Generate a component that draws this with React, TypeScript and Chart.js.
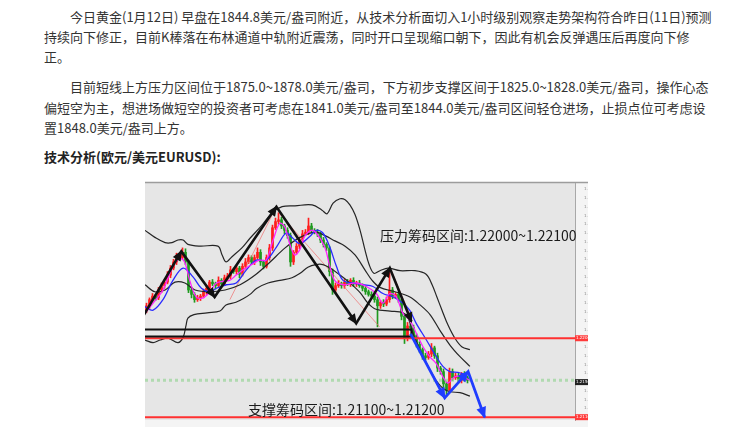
import React, { useEffect, useRef } from "react";
import { Chart, registerables } from "chart.js";
Chart.register(...registerables);

// ---------- page text ----------
const para1Lines = [
  "今日黄金(1月12日) 早盘在1844.8美元/盎司附近，从技术分析面切入1小时级别观察走势架构符合昨日(11日)预测",
  "持续向下修正，目前K棒落在布林通道中轨附近震荡，同时开口呈现缩口朝下，因此有机会反弹遇压后再度向下修",
  "正。",
];
const para2Lines = [
  "目前短线上方压力区间位于1875.0~1878.0美元/盎司，下方初步支撑区间于1825.0~1828.0美元/盎司，操作心态",
  "偏短空为主，想进场做短空的投资者可考虑在1841.0美元/盎司至1844.0美元/盎司区间轻仓进场，止损点位可考虑设",
  "置1848.0美元/盎司上方。",
];
const heading = "技术分析(欧元/美元EURUSD):";

// ---------- chart data (x = bar index, y = EURUSD price) ----------
const firstOpen = 1.2232;
const closes = [
  1.2237, 1.2244, 1.2248, 1.2246, 1.2255, 1.226, 1.2264, 1.2272, 1.228, 1.2287,
  1.2294, 1.2292, 1.2298, 1.2287, 1.2255, 1.225, 1.2244, 1.2246, 1.2248, 1.2253,
  1.2257, 1.2264, 1.2262, 1.226, 1.2266, 1.2262, 1.2269, 1.2271, 1.2278, 1.2276,
  1.228, 1.2273, 1.2282, 1.2287, 1.2292, 1.2287, 1.2292, 1.2298, 1.2287, 1.2282,
  1.2292, 1.2303, 1.2326, 1.2333, 1.2335, 1.2328, 1.2323, 1.2317, 1.2287, 1.2298,
  1.2305, 1.2312, 1.2319, 1.2321, 1.2328, 1.2323, 1.2321, 1.2319, 1.2312, 1.2307,
  1.2303, 1.2276, 1.2255, 1.226, 1.2262, 1.226, 1.2264, 1.2262, 1.2266, 1.2262,
  1.2263, 1.226, 1.2257, 1.2253, 1.225, 1.2248, 1.2244, 1.2237, 1.2241, 1.2239,
  1.2244, 1.2255, 1.2248, 1.225, 1.2244, 1.2225, 1.22, 1.2214, 1.2212, 1.2203,
  1.2193, 1.2187, 1.218, 1.2178, 1.2182, 1.2189, 1.218, 1.2166, 1.2162, 1.2148,
  1.2141, 1.2162, 1.2155, 1.2157, 1.2152, 1.2159, 1.2155, 1.2152,
];
// wick lengths in pips (0.0001)
const upWicks = [
  3, 2, 3, 2, 3, 3, 2, 4, 3, 3, 3, 2, 5, 4, 2, 3, 2, 3, 2, 3,
  3, 2, 3, 2, 4, 2, 3, 3, 4, 2, 3, 2, 3, 4, 3, 2, 3, 5, 3, 2,
  3, 4, 3, 4, 8, 3, 2, 3, 3, 2, 3, 3, 4, 3, 9, 3, 2, 3, 2, 3,
  2, 2, 3, 3, 4, 2, 3, 3, 2, 3, 2, 3, 2, 3, 2, 3, 2, 3, 2, 3,
  3, 23, 3, 2, 3, 2, 3, 4, 2, 3, 2, 3, 2, 3, 3, 5, 2, 3, 2, 3,
  2, 4, 3, 3, 3, 2, 3, 2,
];
const downWicks = [
  3, 3, 2, 3, 2, 3, 3, 2, 3, 2, 3, 3, 2, 3, 3, 4, 3, 2, 3, 2,
  3, 3, 2, 4, 2, 3, 2, 3, 3, 2, 3, 4, 2, 3, 2, 3, 3, 2, 4, 3,
  2, 3, 3, 2, 3, 3, 4, 3, 5, 3, 2, 3, 3, 2, 3, 3, 2, 3, 3, 3,
  3, 5, 5, 3, 2, 3, 3, 2, 3, 3, 3, 2, 3, 3, 2, 3, 3, 24, 3, 3,
  2, 3, 3, 2, 3, 4, 6, 3, 3, 4, 3, 3, 4, 3, 2, 3, 3, 4, 3, 4,
  6, 3, 3, 2, 3, 3, 2, 3,
];

const magentaMA = [
  [-0.1, 1.2228], [2.7, 1.224], [6, 1.2255], [9.3, 1.2282], [11.6, 1.2291], [13.2, 1.2287],
  [14.9, 1.2266], [17.1, 1.2247], [19.3, 1.2246], [21.6, 1.2253], [23.8, 1.2263], [26, 1.2265],
  [28.2, 1.2266], [30.4, 1.2272], [32.7, 1.2278], [36, 1.2285], [38.2, 1.2289], [40.4, 1.2289],
  [42.7, 1.2312], [44.9, 1.2331], [46.6, 1.2327], [48.2, 1.2308], [49.9, 1.2295], [51.6, 1.2301],
  [53.2, 1.2316], [55.4, 1.2323], [57.1, 1.232], [59.9, 1.2304], [61.6, 1.2282], [63.2, 1.2266],
  [66, 1.2261], [70.4, 1.2263], [73.8, 1.2259], [77.1, 1.2251], [79.3, 1.224], [81.6, 1.2251],
  [83.8, 1.2247], [86, 1.2228], [88.2, 1.2221], [90.4, 1.2206], [92.7, 1.219], [94.9, 1.2179],
  [97.1, 1.2171], [99.3, 1.2156], [101, 1.2149], [103.2, 1.2156], [106, 1.2156], [108.2, 1.2152],
];
const blueMA = [
  [-0.1, 1.2236], [2.7, 1.2232], [6, 1.2244], [9.3, 1.2266], [12.7, 1.228], [16, 1.227],
  [18.8, 1.2257], [21.6, 1.2253], [23.8, 1.2257], [27.1, 1.2261], [30.4, 1.2263], [33.8, 1.2278],
  [37.1, 1.2289], [40.4, 1.2289], [43.8, 1.2304], [47.1, 1.232], [49.3, 1.2314], [51.6, 1.2308],
  [54.9, 1.2316], [57.1, 1.2323], [59.3, 1.232], [61.6, 1.2304], [63.8, 1.2282], [66, 1.2266],
  [69.3, 1.2263], [72.7, 1.2261], [76, 1.2259], [79.3, 1.2251], [82.7, 1.2247], [86, 1.224],
  [88.2, 1.2232], [90.4, 1.2217], [93.8, 1.2198], [97.1, 1.2179], [99.3, 1.2168], [101.6, 1.2162],
  [104.3, 1.2161], [107.1, 1.2158],
];
const upperBand = [
  [0, 1.2323], [3.3, 1.2315], [6.7, 1.2309], [9, 1.2309], [11, 1.2312], [12.7, 1.2312],
  [14.3, 1.2307], [18.3, 1.2305], [24.3, 1.2305], [25.7, 1.2295], [27, 1.2287], [29, 1.2293],
  [32.3, 1.2303], [35, 1.2314], [39, 1.2329], [42.3, 1.2343], [45.7, 1.235], [50, 1.2351],
  [55.7, 1.2352], [59, 1.2346], [60.7, 1.2342], [62.7, 1.2354], [65, 1.2359], [66.7, 1.2358],
  [68.3, 1.2352], [70, 1.2341], [71.7, 1.2323], [73.3, 1.2301], [74.7, 1.2284], [76.3, 1.2274],
  [78.3, 1.2277], [81, 1.228], [85, 1.2277], [90, 1.2277], [93.7, 1.2273], [95.7, 1.2261],
  [97.3, 1.2247], [99, 1.2232], [101, 1.2215], [103.3, 1.22], [105.7, 1.219], [108.3, 1.2187],
];
const middleBand = [
  [0, 1.2261], [3.3, 1.2253], [6.7, 1.2255], [10, 1.2264], [13.3, 1.2263], [16.7, 1.2255],
  [21.7, 1.2253], [26.7, 1.2255], [31.7, 1.2261], [36.7, 1.2272], [41.7, 1.2287], [46.7, 1.2303],
  [51.7, 1.2315], [56.7, 1.2321], [60, 1.2317], [63.3, 1.2311], [66.7, 1.2305], [70, 1.2295],
  [73.3, 1.2278], [75.7, 1.2266], [78.3, 1.2258], [83.3, 1.2253], [88.3, 1.2247], [91.7, 1.2238],
  [95, 1.2227], [98.3, 1.2209], [101.7, 1.2192], [105, 1.2179], [108.3, 1.2168],
];
const lowerBand = [
  [0, 1.2198], [2.7, 1.2195], [5, 1.2198], [7.7, 1.22], [11, 1.2195], [12.7, 1.2201],
  [13.7, 1.2215], [14.3, 1.2223], [16.3, 1.2227], [20.7, 1.2229], [25, 1.2231], [27, 1.2238],
  [30.3, 1.2241], [32.7, 1.2245], [35, 1.225], [37.3, 1.2257], [41, 1.2263], [45, 1.2266],
  [49, 1.2269], [51.7, 1.2274], [54.3, 1.2281], [57, 1.2284], [59.3, 1.2284], [61.7, 1.228],
  [65, 1.2272], [68.3, 1.2263], [71.7, 1.2252], [74.3, 1.224], [77, 1.2233], [81.7, 1.2231],
  [86, 1.2229], [87.7, 1.2223], [89.3, 1.2206], [91, 1.2192], [92.7, 1.2179], [95, 1.2164],
  [97, 1.2152], [99.3, 1.2143], [101.7, 1.2139], [105, 1.2138], [108.3, 1.2134],
];
const blackArrowPath = [
  [-1, 1.2223], [12.1, 1.2299], [23.2, 1.2247], [43.8, 1.235], [70.4, 1.2217], [81.6, 1.228], [88.8, 1.2219],
];
const blueArrowPath = [
  [88.5, 1.2205], [99.9, 1.2132], [107.7, 1.2162], [113.2, 1.211],
];
const thinTrendLines = [
  [[44.3, 1.2344], [78.2, 1.2213]],
  [[82, 1.2278], [88.7, 1.2223]],
  [[28.3, 1.2244], [42.3, 1.234]],
];
const pressureBoxPath = [[-2, 1.221], [88.8, 1.221], [88.8, 1.2202], [-2, 1.2202]];
const redLevels = [1.22, 1.211];
const dottedLevel = 1.2152;
const lastPrice = 1.215;
const timeLabels = [
  "4 Jan 16:00", "5 Jan 00:00", "5 Jan 08:00", "5 Jan 16:00", "6 Jan 00:00", "6 Jan 08:00",
  "6 Jan 16:00", "7 Jan 00:00", "7 Jan 08:00", "7 Jan 16:00", "8 Jan 00:00", "8 Jan 08:00",
  "8 Jan 16:00", "11 Jan 00:00", "11 Jan 08:00", "11 Jan 16:00", "12 Jan 00:00", "12 Jan 08:00",
  "12 Jan 16:00",
];
const pressureText = "压力筹码区间:1.22000~1.22100";
const supportText = "支撑筹码区间:1.21100~1.21200";
const pressureAnchor = [78.3, 1.2317];
const supportAnchor = [34.3, 1.2119];
const X_MIN = 0;
const X_MAX = 143.33;
const Y_MIN = 1.21068;
const Y_MAX = 1.2377;

const UP = "#ff1e1e";
const DOWN = "#1f9a1f";

const pts = (arr: number[][]) => arr.map(([x, y]) => ({ x, y }));

const annotate = {
  id: "annotate",
  beforeDraw(chart: any) {
    const { ctx, chartArea: a, scales } = chart;
    const ys = scales.y;
    const xs = scales.x;
    ctx.save();
    ctx.fillStyle = "#f4f4f4";
    ctx.fillRect(a.left, a.top, ys.right - a.left, xs.bottom - a.top);
    ctx.fillStyle = "#e6e6e6";
    ctx.fillRect(a.left, a.top, a.right - a.left, a.bottom - a.top);
    ctx.strokeStyle = "#9c9c9c";
    ctx.lineWidth = 1.5;
    ctx.beginPath();
    ctx.moveTo(a.left, a.top - 0.5);
    ctx.lineTo(ys.right, a.top - 0.5);
    ctx.stroke();
    ctx.restore();
  },
  afterDraw(chart: any) {
    const { ctx, chartArea: a, scales } = chart;
    const ys = scales.y;
    const xs = scales.x;
    ctx.save();
    ctx.beginPath();
    ctx.rect(a.left, a.top, a.right - a.left, a.bottom - a.top);
    ctx.clip();
    chart.data.datasets.forEach((ds: any, i: number) => {
      if (!ds.arrowHead) return;
      const p = chart.getDatasetMeta(i).data;
      for (let k = 1; k < p.length; k++) {
        const p0 = p[k - 1];
        const p1 = p[k];
        const ang = Math.atan2(p1.y - p0.y, p1.x - p0.x);
        const L = ds.arrowHead;
        const W = L * 0.5;
        const bx = p1.x - L * Math.cos(ang);
        const by = p1.y - L * Math.sin(ang);
        ctx.beginPath();
        ctx.moveTo(p1.x + 1.5 * Math.cos(ang), p1.y + 1.5 * Math.sin(ang));
        ctx.lineTo(bx + W * Math.sin(ang), by - W * Math.cos(ang));
        ctx.lineTo(bx - W * Math.sin(ang), by + W * Math.cos(ang));
        ctx.closePath();
        ctx.fillStyle = ds.borderColor;
        ctx.fill();
      }
    });
    ctx.restore();

    ctx.save();
    ctx.fillStyle = "#1a1a1a";
    ctx.font = '14px "Noto Sans CJK SC"';
    ctx.textBaseline = "middle";
    ctx.textAlign = "left";
    ctx.fillText(pressureText, xs.getPixelForValue(pressureAnchor[0]), ys.getPixelForValue(pressureAnchor[1]));
    ctx.fillText(supportText, xs.getPixelForValue(supportAnchor[0]), ys.getPixelForValue(supportAnchor[1]));
    ctx.restore();

    // price markers on the axis strip
    ctx.save();
    ctx.font = '4px "DejaVu Sans"';
    ctx.textBaseline = "middle";
    const marker = (v: number, bg: string) => {
      const y = ys.getPixelForValue(v);
      ctx.fillStyle = bg;
      ctx.fillRect(a.right, y - 3, ys.right - a.right, 6);
      ctx.fillStyle = "#fff";
      ctx.fillText(v.toFixed(5), a.right + 1, y);
    };
    redLevels.forEach((v) => marker(v, "#ff3a3a"));
    marker(lastPrice, "#222");
    ctx.restore();
  },
};

export default function App() {
  const ref = useRef<HTMLCanvasElement>(null);
  useEffect(() => {
    const opens = closes.map((c, i) => (i === 0 ? firstOpen : closes[i - 1]));
    const bodies = closes.map((c, i) => ({ x: i + 0.5, y: [opens[i], c] }));
    const wicks = closes.map((c, i) => ({
      x: i + 0.5,
      y: [Math.min(opens[i], c) - downWicks[i] * 1e-4, Math.max(opens[i], c) + upWicks[i] * 1e-4],
    }));
    const colors = closes.map((c, i) => (c >= opens[i] ? UP : DOWN));
    const lineDs = (data: any, color: string, width: number, order: number, extra: any = {}) => ({
      type: "line",
      data,
      borderColor: color,
      borderWidth: width,
      pointRadius: 0,
      fill: false,
      order,
      ...extra,
    });
    const fullWidth = (v: number) => [{ x: X_MIN, y: v }, { x: X_MAX, y: v }];
    const datasets: any[] = [
      { type: "bar", data: wicks, backgroundColor: colors, barThickness: 1, grouped: false, order: 20 },
      { type: "bar", data: bodies, backgroundColor: colors, barThickness: 2, grouped: false, minBarLength: 1, order: 19 },
      ...thinTrendLines.map((l) => lineDs(pts(l), "rgba(240,110,110,0.7)", 1, 18)),
      lineDs(pts(upperBand), "#262626", 1.2, 15, { tension: 0.35 }),
      lineDs(pts(middleBand), "#262626", 1.2, 15, { tension: 0.35 }),
      lineDs(pts(lowerBand), "#262626", 1.2, 15, { tension: 0.35 }),
      lineDs(pts(blueMA), "#2a2aff", 1.3, 14, { tension: 0.35 }),
      lineDs(pts(magentaMA), "#ff22ff", 1.3, 13, { tension: 0.35 }),
      lineDs(fullWidth(dottedLevel), "rgba(140,210,140,0.6)", 3, 12, { borderDash: [3, 3] }),
      ...redLevels.map((v) => lineDs(fullWidth(v), "#ff3030", 2, 11)),
      lineDs(pts(pressureBoxPath), "#111", 2, 10),
      lineDs(pts(blackArrowPath), "#111", 2.6, 2, { arrowHead: 9 }),
      lineDs(pts(blueArrowPath), "#1f3cff", 2.8, 1, { arrowHead: 10 }),
    ];
    const chart = new Chart(ref.current as HTMLCanvasElement, {
      type: "bar",
      data: { datasets },
      options: {
        animation: false,
        responsive: false,
        events: [],
        layout: { padding: { left: 5, top: 7, right: 7, bottom: 5 } },
        plugins: { legend: { display: false }, tooltip: { enabled: false } },
        scales: {
          x: {
            type: "linear",
            min: X_MIN,
            max: X_MAX,
            offset: false,
            grid: { display: false },
            border: { display: false },
            ticks: {
              stepSize: 6,
              autoSkip: false,
              maxRotation: 0,
              padding: 1,
              color: "#8a8a8a",
              font: { size: 4, family: "DejaVu Sans" },
              callback: (v: any) => (v % 6 === 0 ? timeLabels[v / 6] ?? "" : ""),
            },
            afterFit: (s: any) => {
              s.height = 7;
              s.paddingLeft = 0;
              s.paddingRight = 0;
            },
          },
          y: {
            type: "linear",
            position: "right",
            min: Y_MIN,
            max: Y_MAX,
            beginAtZero: false,
            grid: { display: false },
            border: { display: true, color: "#a8a8a8" },
            ticks: {
              stepSize: 0.001,
              padding: 1,
              color: "#8a8a8a",
              font: { size: 4, family: "DejaVu Sans" },
              callback: (v: any) => (Math.abs(v * 1000 - Math.round(v * 1000)) < 1e-6 ? Number(v).toFixed(5) : ""),
            },
            afterFit: (s: any) => {
              s.width = 13;
              s.paddingTop = 0;
              s.paddingBottom = 0;
            },
          },
        },
      } as any,
      plugins: [annotate],
    } as any);
    return () => chart.destroy();
  }, []);

  const textBase: React.CSSProperties = {
    position: "absolute",
    whiteSpace: "nowrap",
    fontSize: 13,
    lineHeight: "20px",
    color: "#333",
  };
  const lineTops1 = [7, 27, 47];
  const lineTops2 = [77, 98, 118];
  return (
    <div
      style={{
        position: "fixed",
        left: 0,
        top: 0,
        width: 753,
        height: 436,
        background: "#fff",
        fontFamily: '"Noto Sans CJK SC", "Noto Sans", sans-serif',
        overflow: "hidden",
      }}
    >
      {para1Lines.map((t, i) => (
        <div key={"a" + i} style={{ ...textBase, left: i === 0 ? 70 : 44, top: lineTops1[i] }}>
          {t}
        </div>
      ))}
      {para2Lines.map((t, i) => (
        <div key={"b" + i} style={{ ...textBase, left: i === 0 ? 70 : 44, top: lineTops2[i] }}>
          {t}
        </div>
      ))}
      <div style={{ ...textBase, left: 44, top: 147, fontWeight: 700, color: "#222" }}>{heading}</div>
      <div style={{ position: "absolute", left: 140, top: 176, width: 455, height: 256 }}>
        <canvas ref={ref} width={455} height={256} style={{ width: 455, height: 256, display: "block" }} />
      </div>
    </div>
  );
}
